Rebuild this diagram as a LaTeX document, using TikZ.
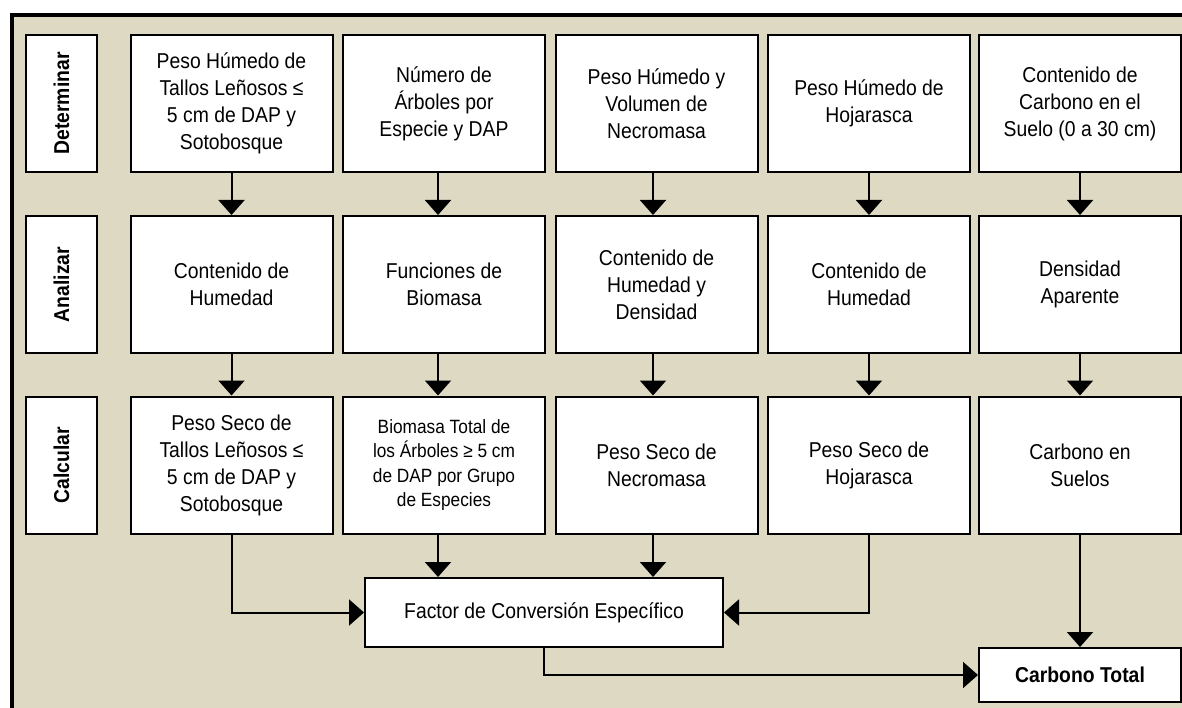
\documentclass[tikz,border=0pt]{standalone}
\usepackage{fontspec}
\setmainfont{Liberation Sans}[FakeStretch=0.9]
\usetikzlibrary{arrows.meta}
\definecolor{bgbeige}{HTML}{DDD9C3}
\tikzset{
  x=1pt,y=1pt,
  pbox/.style={draw=black, fill=white, line width=2pt, minimum width=202pt, minimum height=137pt, inner sep=2pt, align=center, font=\fontsize{21.5}{27}\selectfont},
  lbox/.style={draw=black, fill=white, line width=2pt, minimum width=71pt, minimum height=137pt, inner sep=0pt},
  ltext/.style={rotate=90, font=\bfseries\fontsize{21.5}{24}\selectfont},
  conn/.style={line width=2pt, -{Triangle[width=26pt,length=15pt]}},
  plain/.style={line width=2pt}
}
\begin{document}
\begin{tikzpicture}
\useasboundingbox (0,0) rectangle (1182,-708);
\begin{scope}
\clip (0,0) rectangle (1182,-708);
\draw[line width=4pt, fill=bgbeige] (11.5,-15) rectangle (1200,-730);
\end{scope}
% labels
\node[lbox] (l1) at (61.5,-103.5) {};
\node[ltext] (lt1) at (l1.center) {Determinar};
\node[lbox] (l2) at (61.5,-284.5) {};
\node[ltext] (lt2) at (l2.center) {Analizar};
\node[lbox] (l3) at (61.5,-465) {};
\node[ltext] (lt3) at (l3.center) {Calcular};
% row 1
\node[pbox] (a1) at (231.5,-103.5) {Peso Húmedo de\\Tallos Leñosos ≤\\5 cm de DAP y\\Sotobosque};
\node[pbox] (a2) at (444,-103.5) {Número de\\Árboles por\\Especie y DAP};
\node[pbox] (a3) at (656.5,-103.5) {Peso Húmedo y\\Volumen de\\Necromasa};
\node[pbox] (a4) at (869,-103.5) {Peso Húmedo de\\Hojarasca};
\node[pbox] (a5) at (1080,-103.5) {Contenido de\\Carbono en el\\Suelo (0 a 30 cm)};
% row 2
\node[pbox] (b1) at (231.5,-284.5) {Contenido de\\Humedad};
\node[pbox] (b2) at (444,-284.5) {Funciones de\\Biomasa};
\node[pbox] (b3) at (656.5,-284.5) {Contenido de\\Humedad y\\Densidad};
\node[pbox] (b4) at (869,-284.5) {Contenido de\\Humedad};
\node[pbox] (b5) at (1080,-284.5) {Densidad\\Aparente};
% row 3
\node[pbox] (c1) at (231.5,-465) {Peso Seco de\\Tallos Leñosos ≤\\5 cm de DAP y\\Sotobosque};
\node[pbox, font=\fontsize{19.2}{24.5}\selectfont] (c2) at (444,-465) {Biomasa Total de\\los Árboles ≥ 5 cm\\de DAP por Grupo\\de Especies};
\node[pbox] (c3) at (656.5,-465) {Peso Seco de\\Necromasa};
\node[pbox] (c4) at (869,-465) {Peso Seco de\\Hojarasca};
\node[pbox] (c5) at (1080,-465) {Carbono en\\Suelos};
% bottom
\node[pbox, minimum width=358pt, minimum height=69pt] (f) at (544,-612.5) {Factor de Conversión Específico};
\node[pbox, minimum height=54pt, font=\bfseries\fontsize{21.5}{24}\selectfont] (t) at (1080,-675) {Carbono Total};
% vertical arrows
\draw[conn] (a1.south) -- (b1.north);
\draw[conn] ([xshift=-6pt]a2.south) -- ([xshift=-6pt]b2.north);
\draw[conn] ([xshift=-3.5pt]a3.south) -- ([xshift=-3.5pt]b3.north);
\draw[conn] (a4.south) -- (b4.north);
\draw[conn] (a5.south) -- (b5.north);
\draw[conn] (b1.south) -- (c1.north);
\draw[conn] ([xshift=-6pt]b2.south) -- ([xshift=-6pt]c2.north);
\draw[conn] ([xshift=-3.5pt]b3.south) -- ([xshift=-3.5pt]c3.north);
\draw[conn] (b4.south) -- (c4.north);
\draw[conn] (b5.south) -- (c5.north);
% into factor
\draw[conn] (c1.south) |- (f.west);
\draw[conn] ([xshift=-6pt]c2.south) -- ([xshift=-6pt]c2.south |- f.north);
\draw[conn] ([xshift=-3.5pt]c3.south) -- ([xshift=-3.5pt]c3.south |- f.north);
\draw[conn] (c4.south) |- (f.east);
% to total
\draw[conn] (f.south) |- (t.west);
\draw[conn] (c5.south) -- (t.north);
\end{tikzpicture}
\end{document}
